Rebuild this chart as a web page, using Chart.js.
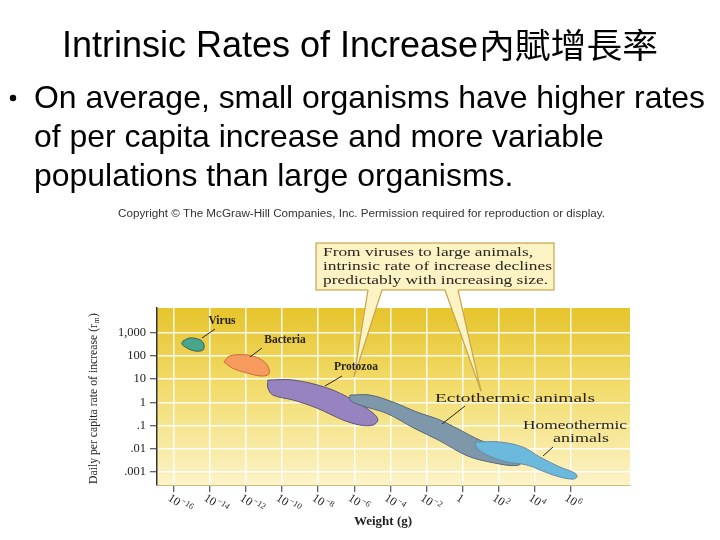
<!DOCTYPE html>
<html>
<head>
<meta charset="utf-8">
<script src="https://cdn.jsdelivr.net/npm/chart.js@4.4.1/dist/chart.umd.min.js"></script>
<style>
  body { margin: 0; width: 720px; height: 540px; background: #fff; overflow: hidden; }
  canvas { display: block; }
</style>
</head>
<body>
<canvas id="chart" width="720" height="540"></canvas>
<script>
// tick positions and labels
const xTicks = [1e-16, 1e-14, 1e-12, 1e-10, 1e-8, 1e-6, 1e-4, 1e-2, 1, 1e2, 1e4, 1e6];
const xTickBase = ['10', '10', '10', '10', '10', '10', '10', '10', '1', '10', '10', '10'];
const xTickExp = ['\u221216', '\u221214', '\u221212', '\u221210', '\u22128', '\u22126', '\u22124', '\u22122', '', '2', '4', '6'];
const yTicks = [1000, 100, 10, 1, 0.1, 0.01, 0.001];
const yTickLabels = ['1,000', '100', '10', '1', '.1', '.01', '.001'];

// group outlines, each point is [log10 weight (g), log10 daily rate]
const groups = ['Virus', 'Bacteria', 'Protozoa', 'Ectothermic animals', 'Homeothermic animals'];
const virusOutline = [[-15.50, 2.64], [-15.11, 2.77], [-14.56, 2.69], [-14.34, 2.51], [-14.39, 2.25],
  [-14.84, 2.21], [-15.28, 2.34], [-15.56, 2.51], [-15.50, 2.64]];
const bacteriaOutline = [[-13.23, 1.74], [-12.89, 2.00], [-11.95, 2.04], [-11.23, 1.87], [-10.79, 1.56],
  [-10.73, 1.22], [-11.12, 1.13], [-11.95, 1.26], [-12.78, 1.48], [-13.23, 1.74]];
const protozoaOutline = [[-10.79, 0.96], [-9.40, 0.96], [-7.51, 0.62], [-6.07, 0.10], [-4.96, -0.46],
  [-4.69, -0.76], [-4.96, -0.98], [-5.68, -0.98], [-6.63, -0.76], [-8.07, -0.25], [-9.40, 0.10],
  [-10.51, 0.31], [-10.79, 0.62], [-10.79, 0.96]];
const ectoOutline = [[-6.24, 0.31], [-5.13, 0.31], [-3.85, 0.01], [-2.52, -0.42], [-1.25, -0.76],
  [-0.14, -1.19], [0.97, -1.63], [2.08, -1.93], [2.80, -2.14], [3.36, -2.49], [3.02, -2.72],
  [1.69, -2.60], [0.25, -2.30], [-1.25, -1.66], [-2.74, -1.09], [-4.19, -0.48], [-5.68, -0.12],
  [-6.24, 0.10], [-6.24, 0.31]];
const homeoOutline = [[0.69, -1.71], [2.08, -1.71], [3.36, -1.93], [4.30, -2.36], [5.41, -2.79],
  [6.24, -3.05], [6.35, -3.22], [6.07, -3.31], [5.02, -3.13], [3.58, -2.70], [2.47, -2.57],
  [1.36, -2.27], [0.81, -1.97], [0.69, -1.71]];

const outlines = [virusOutline, bacteriaOutline, protozoaOutline, ectoOutline, homeoOutline];
const fills = ['#48a68c', '#f79a5e', '#9783bf', '#7f97aa', '#6cb9de'];
const edges = ['#3c5e58', '#c8703e', '#5e5478', '#55697a', '#6a8aa0'];

const serif = '"Liberation Serif", "DejaVu Serif", serif';
const sans = '"Liberation Sans", Arial, sans-serif';

function fitText(ctx, str, x, y, w) {
  const m = ctx.measureText(str).width;
  ctx.save();
  ctx.translate(x, y);
  ctx.scale(w / m, 1);
  ctx.fillText(str, 0, 0);
  ctx.restore();
}

function line(ctx, x1, y1, x2, y2) {
  ctx.beginPath();
  ctx.moveTo(x1, y1);
  ctx.lineTo(x2, y2);
  ctx.stroke();
}

const background = {
  id: 'background',
  beforeDraw(chart) {
    const { ctx, chartArea: a } = chart;
    ctx.save();
    ctx.fillStyle = '#fff';
    ctx.fillRect(0, 0, chart.width, chart.height);
    const g = ctx.createLinearGradient(0, a.top, 0, a.bottom);
    g.addColorStop(0, '#e6c42c');
    g.addColorStop(0.45, '#f2dc6c');
    g.addColorStop(1, '#fcf3c8');
    ctx.fillStyle = g;
    ctx.fillRect(a.left, a.top, a.right - a.left, a.bottom - a.top);
    ctx.restore();
  }
};

const notes = {
  id: 'notes',
  afterDraw(chart) {
    const ctx = chart.ctx;
    const xs = chart.scales.x;
    ctx.save();

    // slide title and bullet
    ctx.fillStyle = '#000';
    ctx.textBaseline = 'alphabetic';
    ctx.textAlign = 'left';
    ctx.font = '36px ' + sans;
    fitText(ctx, 'Intrinsic Rates of Increase', 62, 57, 416);
    ctx.font = '34px "Noto Sans CJK TC", "Noto Sans CJK SC", sans-serif';
    fitText(ctx, '內賦增長率', 479, 58, 179);

    ctx.font = '32px ' + sans;
    const l1 = 'On average, small organisms have higher rates';
    const k = 671 / ctx.measureText(l1).width;
    [[l1, 108], ['of per capita increase and more variable', 147], ['populations than large organisms.', 186]]
      .forEach(([s, y]) => {
        ctx.save(); ctx.translate(34, y); ctx.scale(k, 1); ctx.fillText(s, 0, 0); ctx.restore();
      });
    ctx.beginPath();
    ctx.arc(13, 98, 3.2, 0, Math.PI * 2);
    ctx.fill();

    // copyright line
    ctx.fillStyle = '#333';
    ctx.font = '10px ' + sans;
    fitText(ctx, 'Copyright \u00a9 The McGraw-Hill Companies, Inc. Permission required for reproduction or display.', 118, 217, 487);

    // callout box with two pointers
    ctx.fillStyle = '#fcf3c4';
    ctx.strokeStyle = '#c8a44a';
    ctx.lineWidth = 1.2;
    ctx.fillRect(316, 243, 238, 47);
    ctx.strokeRect(316, 243, 238, 47);
    [[368, 382, 354, 377], [445, 458, 481, 391]].forEach(([b1, b2, tx, ty]) => {
      ctx.beginPath();
      ctx.moveTo(b1, 289);
      ctx.lineTo(tx, ty);
      ctx.lineTo(b2, 289);
      ctx.closePath();
      ctx.fill();
      line(ctx, b1, 290, tx, ty);
      line(ctx, b2, 290, tx, ty);
    });
    ctx.fillStyle = '#2a2620';
    ctx.font = '13px ' + serif;
    fitText(ctx, 'From viruses to large animals,', 323, 256, 210);
    fitText(ctx, 'intrinsic rate of increase declines', 323, 270, 229);
    fitText(ctx, 'predictably with increasing size.', 323, 284, 225);

    // group labels and leader lines
    ctx.fillStyle = '#2a2418';
    ctx.strokeStyle = '#2a2418';
    ctx.lineWidth = 1;
    ctx.textAlign = 'center';
    ctx.textBaseline = 'middle';
    ctx.font = 'bold 11.5px ' + serif;
    ctx.fillText('Virus', 222, 321);
    ctx.fillText('Bacteria', 285, 340);
    ctx.fillText('Protozoa', 356, 367);
    ctx.textAlign = 'left';
    ctx.font = '12.5px ' + serif;
    fitText(ctx, 'Ectothermic animals', 435, 399, 160);
    fitText(ctx, 'Homeothermic', 523, 426, 104);
    fitText(ctx, 'animals', 553, 439, 56);
    line(ctx, 215, 329, 202, 338);
    line(ctx, 262, 348, 250, 357);
    line(ctx, 342, 376, 325, 386);
    line(ctx, 465, 406, 442, 424);
    line(ctx, 553, 447, 543, 456);

    // rotated x tick labels
    ctx.fillStyle = '#222';
    ctx.textAlign = 'left';
    ctx.textBaseline = 'middle';
    xTicks.forEach((v, i) => {
      const px = xs.getPixelForValue(v);
      ctx.save();
      ctx.translate(px - 5, 497);
      ctx.rotate(33 * Math.PI / 180);
      ctx.font = '12px ' + serif;
      ctx.fillText(xTickBase[i], 0, 0);
      const w = ctx.measureText(xTickBase[i]).width;
      ctx.font = '8.5px ' + serif;
      ctx.fillText(xTickExp[i], w + 0.5, -4);
      ctx.restore();
    });

    // axis titles
    ctx.font = 'bold 13px ' + serif;
    ctx.textAlign = 'center';
    ctx.fillText('Weight (g)', 383, 522);

    ctx.save();
    ctx.translate(94, 484);
    ctx.rotate(-Math.PI / 2);
    ctx.textAlign = 'left';
    ctx.font = '12.5px ' + serif;
    const main = 'Daily per capita rate of increase (r';
    const mw = ctx.measureText(main).width;
    ctx.font = '8.5px ' + serif;
    const sw = ctx.measureText('m').width;
    ctx.font = '12.5px ' + serif;
    const cw = ctx.measureText(')').width;
    ctx.scale(171 / (mw + sw + cw + 1), 1);
    ctx.fillText(main, 0, 0);
    ctx.font = '8.5px ' + serif;
    ctx.fillText('m', mw + 0.5, 3);
    ctx.font = '12.5px ' + serif;
    ctx.fillText(')', mw + sw + 1, 0);
    ctx.restore();

    ctx.restore();
  }
};

new Chart(document.getElementById('chart'), {
  type: 'scatter',
  data: {
    datasets: outlines.map((pts, i) => ({
      label: groups[i],
      data: pts.map(([lx, ly]) => ({ x: Math.pow(10, lx), y: Math.pow(10, ly) })),
      showLine: true,
      fill: 'shape',
      tension: 0.35,
      backgroundColor: fills[i],
      borderColor: edges[i],
      borderWidth: 1,
      pointRadius: 0,
      order: outlines.length - i
    }))
  },
  options: {
    responsive: false,
    animation: false,
    devicePixelRatio: 1,
    layout: { padding: { top: 308, right: 90, left: 0, bottom: 0 } },
    plugins: { legend: { display: false }, tooltip: { enabled: false } },
    scales: {
      x: {
        type: 'logarithmic',
        min: Math.pow(10, -16.94),
        max: Math.pow(10, 9.29),
        afterBuildTicks: s => { s.ticks = xTicks.map(v => ({ value: v })); },
        afterFit: s => { s.height = 55; },
        ticks: { display: false },
        grid: { color: 'rgba(255,255,255,0.9)', lineWidth: 1.5, tickColor: '#333', tickLength: 7, tickWidth: 1 },
        border: { color: '#cdbb7a', width: 1 }
      },
      y: {
        type: 'logarithmic',
        min: Math.pow(10, -3.56),
        max: Math.pow(10, 4.06),
        afterBuildTicks: s => { s.ticks = yTicks.map(v => ({ value: v })); },
        afterFit: s => { s.width = 157; },
        ticks: {
          autoSkip: false,
          padding: 4,
          color: '#222',
          font: { family: serif, size: 12.5 },
          callback: (v, i) => yTickLabels[i]
        },
        grid: { color: 'rgba(255,255,255,0.9)', lineWidth: 1.5, tickColor: '#333', tickLength: 7, tickWidth: 1 },
        border: { color: '#333', width: 1.5 }
      }
    }
  },
  plugins: [background, notes]
});
</script>
</body>
</html>
